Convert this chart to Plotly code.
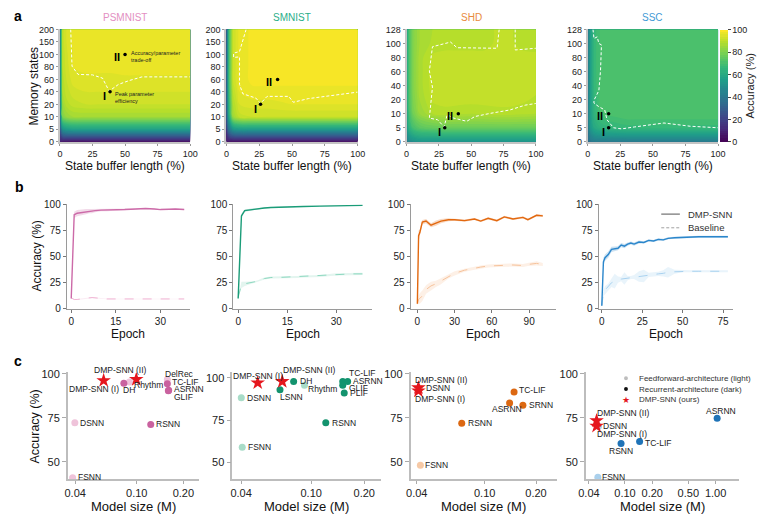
import numpy as np
import plotly.graph_objects as go

W, H = 776, 523
FONT = "Arial, Liberation Sans, Helvetica, sans-serif"

# ------------------------------------------------------------------ data
datasets = ["PSMNIST", "SMNIST", "SHD", "SSC"]

# (a) accuracy landscape
buffer_pct = [0, 2, 5, 10, 20, 30, 40, 50, 60, 70, 80, 90, 100]
mem_states_mnist = [0, 5, 10, 20, 40, 60, 80, 100, 150, 200]
mem_states_audio = [0, 5, 10, 20, 40, 60, 80, 100, 128]

acc_grid_psmnist = [
    [10, 7, 6, 5, 5, 5, 5, 5, 5, 5, 5, 5, 5],
    [25, 50, 55, 57, 57, 57, 57, 57, 57, 57, 57, 57, 57],
    [30, 80, 84, 86, 86, 86, 86, 86, 86, 86, 86, 86, 86],
    [33, 85, 89, 91, 92, 92, 92, 92, 92, 92, 92, 92, 92],
    [35, 88, 91, 93, 94, 94, 94.5, 94, 94, 94, 94, 94, 94],
    [35, 89, 92, 95, 95.5, 95.5, 95.5, 95.5, 95.5, 95.5, 95.5, 95.5, 95.5],
    [35, 90, 93, 96, 96.5, 96.5, 96.5, 97, 97, 97, 97, 97, 97],
    [35, 90, 93.5, 96, 97, 97, 97, 97, 97, 97, 97, 97, 97],
    [35, 91, 94, 96.5, 97, 97, 97, 97, 97, 97, 97, 97, 97],
    [35, 91, 94, 96.5, 97, 97, 97, 97, 97, 97, 97, 97, 97],
]
acc_grid_smnist = [
    [8, 6, 5, 5, 5, 5, 5, 5, 5, 5, 5, 5, 5],
    [20, 40, 52, 55, 55, 55, 55, 55, 55, 55, 55, 55, 55],
    [28, 60, 85, 91, 92, 92, 92, 92, 92, 92, 92, 92, 92],
    [30, 65, 88, 94, 95, 95, 95.5, 96, 96, 96, 96, 96, 96],
    [30, 68, 90, 96, 97.5, 97.5, 97.5, 97.5, 97.5, 97.5, 97.5, 97.5, 97.5],
    [30, 70, 92, 97, 98.5, 98.5, 98.5, 98.5, 98.5, 98.5, 98.5, 98.5, 98.5],
    [30, 70, 92, 97, 98.5, 98.5, 98.5, 98.5, 98.5, 98.5, 98.5, 98.5, 98.5],
    [30, 70, 92, 97, 98.5, 98.5, 98.5, 98.5, 98.5, 98.5, 98.5, 98.5, 98.5],
    [30, 70, 92, 97, 98.5, 98.5, 98.5, 98.5, 98.5, 98.5, 98.5, 98.5, 98.5],
    [30, 70, 92, 97, 98.5, 98.5, 98.5, 98.5, 98.5, 98.5, 98.5, 98.5, 98.5],
]
acc_grid_shd = [
    [42, 47, 50, 52, 52, 52, 52, 52, 52, 52, 52, 52, 52],
    [52, 64, 70, 74, 76, 77, 77, 77, 77, 77, 77, 77, 77],
    [56, 70, 78, 84, 88, 89, 88.5, 88, 88.5, 89, 89, 88.5, 88],
    [58, 72, 80, 86, 90.5, 91, 91, 91, 91, 91, 91, 90.5, 89.5],
    [58, 72, 81, 87, 91, 91.5, 91.5, 91.5, 91.5, 91.5, 91.5, 91.5, 91],
    [58, 72, 81, 87, 91, 91.5, 91.5, 91.5, 91.5, 91.5, 91.5, 91.5, 91],
    [58, 72, 81, 87, 90.5, 91, 91, 91, 91, 91, 91, 91, 91],
    [58, 72, 81, 86, 88.5, 89, 89, 89, 89, 90.5, 90.5, 89, 88.5],
    [58, 72, 81, 86, 88, 88.5, 88.5, 88.5, 88.5, 90.5, 90.5, 88.5, 88],
]
acc_grid_ssc = [
    [35, 40, 42, 42, 42, 42, 42, 42, 42, 42, 42, 42, 42],
    [38, 53, 60, 64, 66, 67, 67, 67, 67, 67, 67, 67, 67],
    [40, 56, 65, 70, 71, 72, 72, 72, 72, 72, 72, 72, 72],
    [40, 56, 66, 71, 72, 72, 72, 72, 72, 72, 72, 72, 72],
    [40, 56, 67, 70.5, 72, 72, 72, 72, 72, 72, 72, 72, 72],
    [40, 56, 67, 70.5, 72, 72, 72, 72, 72, 72, 72, 72, 72],
    [40, 56, 67, 70.5, 72, 72, 72, 72, 72, 72, 72, 72, 72],
    [40, 56, 67, 70.5, 72, 72, 72, 72, 72, 72, 72, 72, 72],
    [40, 56, 67, 70.5, 72, 72, 72, 72, 72, 72, 72, 72, 72],
]

# trade-off boundary (buffer %, memory-state level index)
bound_x_psmnist = [8.3, 9.3, 13.9, 25, 32.7, 37.8, 45, 53, 63, 100]
bound_y_psmnist = [9, 6.06, 5.4, 5.36, 5.1, 4.06, 4.6, 4.9, 5.2, 5.2]
bound_x_smnist = [15, 10, 5.5, 5.5, 10, 10, 12.5, 22.5, 26, 31, 47.5, 51, 62.5, 80, 100]
bound_y_smnist = [9, 7.23, 7.1, 6.76, 6.8, 4.6, 3.85, 3.5, 3.07, 3.64, 3.64, 3.17, 3.46, 3.7, 3.98]
bound_x_shd = [71.6, 70, 39, 34, 20, 17.6, 20, 17.6, 24, 29, 31.4, 36.4, 46.5, 52.8, 65, 80, 91.7, 100,
               None, 84, 84, 100]
bound_y_shd = [8, 6.66, 6.7, 7.1, 6.77, 5.04, 3.9, 1.69, 1.57, 1.06, 1.92, 1.69, 1.46, 1.8, 2.03, 2.27, 2.61, 2.73,
               None, 8, 6.54, 6.66]
bound_x_ssc = [4, 4.75, 7.25, 8.5, 10.5, 9.75, 8.5, 4.75, 4.75, 8.5, 13, 14.75, 19.75, 26, 36, 58.5, 78.5, 100]
bound_y_ssc = [8, 7.35, 7.47, 7.0, 6.9, 5.04, 3.65, 2.96, 2.75, 2.5, 2.27, 1.57, 1.0, 0.92, 1.06, 1.34, 1.11, 1.0]

# operating points I and II: (buffer %, memory states)
pts_buffer = {"PSMNIST": [38.5, 50], "SMNIST": [26, 39], "SHD": [29.5, 40], "SSC": [16, 16]}
pts_memory = {"PSMNIST": [40, 100], "SMNIST": [20, 60], "SHD": [5, 10], "SSC": [5, 10]}

# (b) learning curves
epochs_psmnist = [0, 1, 2, 3, 4, 5, 6, 7, 8, 10, 12, 15, 18, 20, 22, 25, 28, 30, 33, 35, 38]
dmp_psmnist = [10, 90, 91.5, 92, 92.5, 93, 93.5, 93.5, 94, 94.5, 94.5, 95, 95, 95.3, 95.5, 96, 95.5, 95, 95.3, 95.5, 95]
dmp_std_psmnist = [0, 3, 3, 3, 2.5, 2.5, 2, 2, 1.5, 1, 1, 0.8, 0.6, 0.5, 0.5, 0.5, 0.5, 0.5, 0.5, 0.5, 0.5]
base_psmnist = [10.5, 9, 9, 9.2, 9.5, 10, 10.5, 10.8, 10.5, 9.5, 9.5, 9.5, 9.5, 9.5, 9.5, 9.5, 9.5, 9.5, 9.5, 9.5, 9.5]
base_std_psmnist = [0, 0.5, 0.5, 0.5, 0.5, 0.5, 0.5, 0.5, 0.5, 0.3, 0.3, 0.3, 0.3, 0.3, 0.3, 0.3, 0.3, 0.3, 0.3, 0.3, 0.3]

epochs_smnist = [0, 1, 2, 3, 4, 5, 6, 8, 10, 12, 15, 18, 20, 25, 30, 35, 38]
dmp_smnist = [10, 89, 94, 94.5, 95, 95.5, 96, 96.5, 97, 97.3, 97.6, 97.8, 98, 98.3, 98.5, 98.8, 99]
dmp_std_smnist = [0, 2, 1, 1, 0.8, 0.8, 0.6, 0.5, 0.5, 0.4, 0.4, 0.4, 0.4, 0.3, 0.3, 0.3, 0.3]
base_smnist = [11, 23, 24, 24.5, 25, 25.5, 26.5, 29, 30, 30, 30.5, 30.5, 31, 31.5, 33, 33.5, 33.5]
base_std_smnist = [0, 3, 2, 1.5, 1, 1, 1, 1, 1, 1, 1, 1, 1, 1, 1, 1, 1]

epochs_shd = [0, 1, 2, 4, 7, 11, 15, 19, 25, 30, 38, 46, 51, 57, 64, 70, 77, 85, 89, 96, 101]
dmp_shd = [5, 70, 73, 83, 84, 80, 82, 84, 85.3, 85.3, 84.4, 86, 84, 86.6, 84.4, 88, 86, 87.5, 85.3, 89.5, 89]
dmp_std_shd = [1, 5, 3, 2, 2, 2, 2.5, 2, 1.5, 1, 1, 1, 1, 1, 1, 1, 1, 1, 1, 1, 1]
base_shd = [5, 9, 10, 12.5, 18.5, 22, 24, 26.5, 31, 34, 37, 39, 40, 41, 41.5, 42, 42, 41.5, 42.5, 43.5, 42.5]
base_std_shd = [1, 4, 5, 5, 4, 4, 3, 3, 2, 2, 1.5, 1.5, 1.5, 1.5, 1.5, 1.5, 1.5, 1.5, 1.5, 2, 1.5]

epochs_ssc = [0, 1, 2, 4, 6, 8, 10, 12, 14, 16, 18, 20, 23, 26, 29, 32, 35, 38, 41, 45, 50, 55, 60, 65, 70, 75, 78]
dmp_ssc = [3, 45, 49, 52, 57, 57.5, 58, 61, 60, 62, 63, 62, 64, 63.5, 65.5, 65, 66.5, 66, 67.5, 68, 68.5, 69, 69, 69, 69, 68.5, 69]
dmp_std_ssc = [1, 4, 3, 3, 2.5, 2, 2, 2, 2, 1.5, 1.5, 1.5, 1.5, 1, 1, 1, 1, 1, 1, 1, 1, 1, 1, 1, 1, 1, 1]
base_ssc = [3, 15, 18, 21, 25, 26.5, 28, 28.5, 29, 29.5, 30, 30.5, 31, 31.5, 32.5, 33, 33.5, 34, 35, 35.5, 36, 36, 36, 36, 36, 36, 36]
base_std_ssc = [0, 3, 4, 3, 4, 7, 3, 2, 6, 2, 1.5, 2, 5, 6, 2, 2, 2, 3, 5, 2, 1, 1, 1, 1, 1, 1, 1]

# (c) accuracy vs model size
names_psmnist = ["DMP-SNN (I)", "DMP-SNN (II)", "DH", "Rhythm", "DelRec", "TC-LIF", "ASRNN", "GLIF", "RSNN", "DSNN", "FSNN"]
size_psmnist = [0.0611, 0.0993, 0.0825, 0.0897, 0.1576, 0.1576, 0.1607, 0.160, 0.1231, 0.0398, 0.0385]
accm_psmnist = [96.2, 96.8, 94.7, 95.3, 96.8, 94.3, 90.7, 90.4, 71.3, 72.2, 41.1]
arch_psmnist = ["ours", "ours", "rec", "ff", "ff", "rec", "rec", "rec", "rec", "ff", "ff"]

names_smnist = ["DMP-SNN (I)", "DMP-SNN (II)", "DH", "Rhythm", "LSNN", "DSNN", "FSNN", "RSNN", "TC-LIF", "ASRNN", "GLIF", "PLIF"]
size_smnist = [0.0497, 0.0685, 0.0795, 0.0916, 0.0665, 0.0401, 0.0406, 0.121, 0.151, 0.161, 0.151, 0.154]
accm_smnist = [97.1, 97.9, 97.9, 95.6, 93.0, 88.2, 58.8, 73.3, 97.9, 97.9, 95.6, 91.1]
arch_smnist = ["ours", "ours", "rec", "ff", "rec", "ff", "ff", "rec", "rec", "rec", "rec", "rec"]

names_shd = ["DMP-SNN (I)", "DMP-SNN (II)", "DSNN", "TC-LIF", "ASRNN", "SRNN", "RSNN", "FSNN"]
size_shd = [0.0409, 0.0409, 0.0414, 0.1487, 0.140, 0.1675, 0.0734, 0.0420]
accm_shd = [90.3, 92.1, 91.9, 89.7, 83.5, 82.1, 72.0, 48.2]
arch_shd = ["ours", "ours", "ff", "rec", "rec", "rec", "rec", "ff"]

names_ssc = ["DMP-SNN (I)", "DMP-SNN (II)", "DSNN", "RSNN", "TC-LIF", "ASRNN", "FSNN"]
size_ssc = [0.0486, 0.0486, 0.051, 0.0905, 0.145, 1.04, 0.0502]
accm_ssc = [70.3, 73.4, 70.3, 60.5, 61.6, 74.8, 41.3]
arch_ssc = ["ours", "ours", "ff", "rec", "rec", "rec", "ff"]

# ------------------------------------------------------------------ styles
title_col = {"PSMNIST": "#e38fc2", "SMNIST": "#2aae8a", "SHD": "#e88a3c", "SSC": "#3f9ad6"}
dark_col = {"PSMNIST": "#c9629f", "SMNIST": "#13936e", "SHD": "#dc6812", "SSC": "#1f73b7"}
light_col = {"PSMNIST": "#efc3da", "SMNIST": "#a8dcc8", "SHD": "#f6c9a6", "SSC": "#aad0ec"}
line_col = {"PSMNIST": "#cc6aa8", "SMNIST": "#1a9c78", "SHD": "#e2680f", "SSC": "#2b86cb"}
base_col = {"PSMNIST": "#f0b3d3", "SMNIST": "#8ed8c0", "SHD": "#f6c29b", "SSC": "#a9d2f0"}
STAR = "#e5161d"

# panel boxes in pixels: left, right, top, bottom
BOX = [
    (53, 186, 24, 139), (223, 357, 24, 139), (407, 539, 24, 139), (592, 725, 24, 139),
    (60, 186, 203, 310), (230, 372, 203, 310), (411, 560, 203, 310), (603, 740, 203, 310),
    (61, 195, 375, 484), (229, 381, 375, 484), (411, 561, 375, 484), (590, 746, 375, 484),
]


def axn(k):
    n = k + 1
    return ("x" if n == 1 else f"x{n}"), ("y" if n == 1 else f"y{n}")


def rgba(h, a):
    h = h.lstrip("#")
    return f"rgba({int(h[0:2],16)},{int(h[2:4],16)},{int(h[4:6],16)},{a})"


def fx(px):
    return px / W


def fy(py):
    return 1 - py / H


fig = go.Figure()
ann = []
shapes = []

# ------------------------------------------------------------------ row a
grids = {"PSMNIST": acc_grid_psmnist, "SMNIST": acc_grid_smnist, "SHD": acc_grid_shd, "SSC": acc_grid_ssc}
mems = {"PSMNIST": mem_states_mnist, "SMNIST": mem_states_mnist, "SHD": mem_states_audio, "SSC": mem_states_audio}
bounds = {"PSMNIST": (bound_x_psmnist, bound_y_psmnist), "SMNIST": (bound_x_smnist, bound_y_smnist),
          "SHD": (bound_x_shd, bound_y_shd), "SSC": (bound_x_ssc, bound_y_ssc)}

for i, ds in enumerate(datasets):
    xs, ys = axn(i)
    mem = mems[ds]
    lev = list(range(len(mem)))
    fig.add_trace(go.Contour(
        x=buffer_pct, y=lev, z=grids[ds], xaxis=xs, yaxis=ys,
        colorscale="Viridis", zmin=0, zmax=100, autocontour=False,
        contours=dict(start=0, end=100, size=2, coloring="fill", showlines=False),
        line=dict(width=0), hoverinfo="skip", showscale=(i == 3),
        colorbar=dict(x=fx(727), xanchor="left", y=fy(139), yanchor="bottom",
                      len=115 / H, lenmode="fraction", thickness=8, outlinewidth=0, xpad=0, ypad=0,
                      tickvals=[0, 20, 40, 60, 80, 100], ticks="outside", ticklen=3,
                      tickfont=dict(size=9, family=FONT, color="#222"),
                      title=dict(text="Accuracy (%)", side="right", font=dict(size=11, family=FONT, color="#222"))),
    ))
    bx, by = bounds[ds]
    fig.add_trace(go.Scatter(x=bx, y=by, xaxis=xs, yaxis=ys, mode="lines",
                             line=dict(color="white", width=1, dash="3px,2px"), hoverinfo="skip", showlegend=False))
    pidx = list(np.interp(pts_memory[ds], mem, lev))
    fig.add_trace(go.Scatter(x=pts_buffer[ds], y=pidx, xaxis=xs, yaxis=ys, mode="markers",
                             marker=dict(color="black", size=3.5), hoverinfo="skip", showlegend=False))
    for j, lab in enumerate(["I", "II"]):
        dx, dy = (-5.5, 4.3) if lab == "I" else (-8.5, 2.3)
        ann.append(dict(x=pts_buffer[ds][j], y=pidx[j], xref=xs, yref=ys, text=f"<b>{lab}</b>", showarrow=False,
                        xshift=dx, yshift=-dy, font=dict(size=11, color="black", family=FONT)))
    if ds == "PSMNIST":
        ann.append(dict(x=pts_buffer[ds][1], y=pidx[1], xref=xs, yref=ys, text="Accuracy/parameter<br>trade-off",
                        showarrow=False, xanchor="left", align="left", xshift=4, yshift=-2,
                        font=dict(size=5.5, color="#222", family=FONT)))
        ann.append(dict(x=pts_buffer[ds][0], y=pidx[0], xref=xs, yref=ys, text="Peak parameter<br>efficiency",
                        showarrow=False, xanchor="left", align="left", xshift=3, yshift=-6,
                        font=dict(size=5.5, color="#222", family=FONT)))
    l, r, t, b = BOX[i]
    ann.append(dict(x=fx((l + r) / 2), y=fy(12), xref="paper", yref="paper", text=ds, showarrow=False,
                    font=dict(size=10, color=title_col[ds], family=FONT)))
    ann.append(dict(x=fx((l + r) / 2), y=fy(164), xref="paper", yref="paper", text="State buffer length (%)",
                    showarrow=False, font=dict(size=12, color="#111", family=FONT)))

# ------------------------------------------------------------------ row b
curves = {
    "PSMNIST": (epochs_psmnist, dmp_psmnist, dmp_std_psmnist, base_psmnist, base_std_psmnist),
    "SMNIST": (epochs_smnist, dmp_smnist, dmp_std_smnist, base_smnist, base_std_smnist),
    "SHD": (epochs_shd, dmp_shd, dmp_std_shd, base_shd, base_std_shd),
    "SSC": (epochs_ssc, dmp_ssc, dmp_std_ssc, base_ssc, base_std_ssc),
}
for i, ds in enumerate(datasets):
    k = 4 + i
    xs, ys = axn(k)
    ep, dm, dms, bs, bss = curves[ds]
    for mean, std, col, dash, wid in [(bs, bss, base_col[ds], "dash", 1.0), (dm, dms, line_col[ds], "solid", 1.4)]:
        up = [m + s for m, s in zip(mean, std)]
        lo = [m - s for m, s in zip(mean, std)]
        fig.add_trace(go.Scatter(x=ep, y=up, xaxis=xs, yaxis=ys, mode="lines", line=dict(width=0),
                                 hoverinfo="skip", showlegend=False))
        fig.add_trace(go.Scatter(x=ep, y=lo, xaxis=xs, yaxis=ys, mode="lines", line=dict(width=0),
                                 fill="tonexty", fillcolor=rgba(col, 0.25), hoverinfo="skip", showlegend=False))
        fig.add_trace(go.Scatter(x=ep, y=mean, xaxis=xs, yaxis=ys, mode="lines",
                                 line=dict(color=col, width=wid, dash=dash), hoverinfo="skip", showlegend=False))
    l, r, t, b = BOX[k]
    ann.append(dict(x=fx((l + r) / 2), y=fy(336), xref="paper", yref="paper", text="Epoch",
                    showarrow=False, font=dict(size=12, color="#111", family=FONT)))

# legend for row b (manual)
shapes.append(dict(type="line", xref="paper", yref="paper", x0=fx(667), x1=fx(686), y0=fy(213), y1=fy(213),
                   line=dict(color="#707070", width=1.2)))
shapes.append(dict(type="line", xref="paper", yref="paper", x0=fx(667), x1=fx(686), y0=fy(227), y1=fy(227),
                   line=dict(color="#a0a0a0", width=1, dash="3px,2px")))
for txt, py in [("DMP-SNN", 213), ("Baseline", 227)]:
    ann.append(dict(x=fx(692), y=fy(py), xref="paper", yref="paper", text=txt, showarrow=False, xanchor="left",
                    font=dict(size=9.5, color="#333", family=FONT)))

# ------------------------------------------------------------------ row c
scatter_data = {
    "PSMNIST": (names_psmnist, size_psmnist, accm_psmnist, arch_psmnist),
    "SMNIST": (names_smnist, size_smnist, accm_smnist, arch_smnist),
    "SHD": (names_shd, size_shd, accm_shd, arch_shd),
    "SSC": (names_ssc, size_ssc, accm_ssc, arch_ssc),
}
label_style = {
    "PSMNIST": {"DMP-SNN (II)": ("center", -16, -9), "DMP-SNN (I)": ("right", 17, 8), "DH": ("left", -3, 7),
                "Rhythm": ("left", 3, 3), "DelRec": ("left", -4, -5), "TC-LIF": ("left", 3, -2),
                "ASRNN": ("left", 3, -1), "GLIF": ("left", 4, 6), "RSNN": ("left", 3, 0),
                "DSNN": ("left", 3, 0), "FSNN": ("left", 3, -1)},
    "SMNIST": {"DMP-SNN (I)": ("center", 0, -7), "DMP-SNN (II)": ("left", -1, -11), "DH": ("left", 4, 0),
               "Rhythm": ("left", 2, 4), "LSNN": ("left", -2, 7), "DSNN": ("left", 4, 0), "FSNN": ("left", 4, 0),
               "RSNN": ("left", 4, 0), "TC-LIF": ("left", 4, -8), "ASRNN": ("left", 3, 0),
               "GLIF": ("left", 4, 3), "PLIF": ("left", 4, 0)},
    "SHD": {"DMP-SNN (II)": ("left", -5, -8), "DSNN": ("left", 5, 0), "DMP-SNN (I)": ("left", -5, 8),
            "TC-LIF": ("left", 3, -2), "ASRNN": ("center", -3, 6), "SRNN": ("left", 4, 0),
            "RSNN": ("left", 4, 0), "FSNN": ("left", 3, 0)},
    "SSC": {"DMP-SNN (II)": ("left", -2, -8), "DSNN": ("left", 3, 0), "DMP-SNN (I)": ("left", -2, 8),
            "RSNN": ("center", 0, 8), "TC-LIF": ("left", 3, 1), "ASRNN": ("center", 4, -7), "FSNN": ("left", 2, 0)},
}
for i, ds in enumerate(datasets):
    k = 8 + i
    xs, ys = axn(k)
    nm, sz, ac, ar = scatter_data[ds]
    for kind in ["ff", "rec", "ours"]:
        idx = [j for j, a in enumerate(ar) if a == kind]
        if kind == "ours":
            mk = dict(symbol="star", size=11, color=STAR, line=dict(width=0))
        else:
            mk = dict(symbol="circle", size=7, color=light_col[ds] if kind == "ff" else dark_col[ds], line=dict(width=0))
        fig.add_trace(go.Scatter(x=[sz[j] for j in idx], y=[ac[j] for j in idx], xaxis=xs, yaxis=ys,
                                 mode="markers", marker=mk, hoverinfo="skip", showlegend=False))
    for j, n in enumerate(nm):
        xa, dx, dy = label_style[ds][n]
        ann.append(dict(x=float(np.log10(sz[j])), y=ac[j], xref=xs, yref=ys, text=n, showarrow=False,
                        xanchor=xa, yanchor="middle", xshift=dx, yshift=-dy,
                        font=dict(size=8.5, color="#222", family=FONT)))
    l, r, t, b = BOX[k]
    ann.append(dict(x=fx((l + r) / 2), y=fy(512), xref="paper", yref="paper", text="Model size (M)",
                    showarrow=False, font=dict(size=13, color="#111", family=FONT)))

# legend for row c (manual)
shapes.append(dict(type="circle", xref="paper", yref="paper", x0=fx(629), x1=fx(633), y0=fy(383), y1=fy(379),
                   fillcolor="#bdbdbd", line=dict(width=0)))
shapes.append(dict(type="circle", xref="paper", yref="paper", x0=fx(629), x1=fx(633), y0=fy(394), y1=fy(390),
                   fillcolor="#111111", line=dict(width=0)))
ann.append(dict(x=fx(631), y=fy(403), xref="paper", yref="paper", text="★", showarrow=False,
                font=dict(size=9, color=STAR, family="DejaVu Sans")))
for txt, py in [("Feedforward-architecture (light)", 381), ("Recurrent-architecture (dark)", 392),
                ("DMP-SNN (ours)", 403)]:
    ann.append(dict(x=fx(642), y=fy(py), xref="paper", yref="paper", text=txt, showarrow=False, xanchor="left",
                    font=dict(size=8, color="#333", family=FONT)))

# y titles and panel letters
for txt, px, py, sz in [("Memory states", 27, 82, 12), ("Accuracy (%)", 30, 256, 12), ("Accuracy (%)", 28, 430, 12.5)]:
    ann.append(dict(x=fx(px), y=fy(py), xref="paper", yref="paper", text=txt, textangle=-90, showarrow=False,
                    font=dict(size=sz, color="#111", family=FONT)))
for txt, px, py in [("a", 10, 10), ("b", 12, 185), ("c", 10, 363)]:
    ann.append(dict(x=fx(px), y=fy(py), xref="paper", yref="paper", text=f"<b>{txt}</b>", showarrow=False,
                    font=dict(size=14, color="black", family=FONT)))

for a in ann:
    a.setdefault("xanchor", "center")
    a.setdefault("yanchor", "middle")

# ------------------------------------------------------------------ axes
layout = dict(width=W, height=H, margin=dict(l=0, r=0, t=0, b=0), paper_bgcolor="white", plot_bgcolor="white",
              showlegend=False, font=dict(family=FONT, color="#222", size=10), annotations=ann, shapes=shapes)

xranges_b = [[-1.5, 40], [-1.5, 41], [-5.5, 112], [-2, 81]]
xticks_b = [[0, 15, 30], [0, 15, 30], [0, 30, 60, 90], [0, 25, 50, 75]]
xranges_c = [[-1.446, -0.598], [-1.448, -0.603], [-1.4345, -0.5735], [-1.432, 0.254]]
yranges_c = [[40.4, 100.8], [40, 103.3], [40.4, 100.8], [40.4, 100.8]]

for k, (l, r, t, b) in enumerate(BOX):
    n = k + 1
    xa = "xaxis" if n == 1 else f"xaxis{n}"
    ya = "yaxis" if n == 1 else f"yaxis{n}"
    xs, ys = axn(k)
    xd = dict(domain=[fx(l), fx(r)], anchor=ys, showgrid=False, zeroline=False, showline=True, ticks="outside")
    yd = dict(domain=[fy(b), fy(t)], anchor=xs, showgrid=False, zeroline=False, showline=True, ticks="outside")
    if k < 4:
        mem = mems[datasets[k]]
        xd.update(range=[0, 100], tickvals=[0, 25, 50, 75, 100], linecolor="#c4c4c4", linewidth=2,
                  ticklen=2, tickcolor="#999", tickfont=dict(size=9))
        yd.update(range=[0, len(mem) - 1], tickvals=list(range(len(mem))), ticktext=[str(m) for m in mem],
                  linecolor="#c4c4c4", linewidth=2, ticklen=2, tickcolor="#999", tickfont=dict(size=9))
    elif k < 8:
        j = k - 4
        xd.update(range=xranges_b[j], tickvals=xticks_b[j], linecolor="#9a9a9a", linewidth=1,
                  ticklen=3, tickcolor="#777", tickfont=dict(size=10))
        yd.update(range=[0, 100], tickvals=[0, 25, 50, 75, 100], linecolor="#9a9a9a", linewidth=1,
                  ticklen=3, tickcolor="#777", tickfont=dict(size=10))
    else:
        j = k - 8
        tv = [0.04, 0.1, 0.2] if j < 3 else [0.04, 0.1, 0.2, 0.5, 1.0]
        xd.update(type="log", range=xranges_c[j], tickvals=tv, ticktext=[f"{v:.2f}" for v in tv],
                  linecolor="#bdbdbd", linewidth=1.5, ticklen=3, tickcolor="#aaa", tickfont=dict(size=11))
        yd.update(range=yranges_c[j], tickvals=[50, 75, 100], linecolor="#bdbdbd", linewidth=1.5,
                  ticklen=4, tickcolor="#aaa", tickfont=dict(size=11))
    layout[xa] = xd
    layout[ya] = yd

fig.update_layout(**layout)
fig.write_html("out.html")
